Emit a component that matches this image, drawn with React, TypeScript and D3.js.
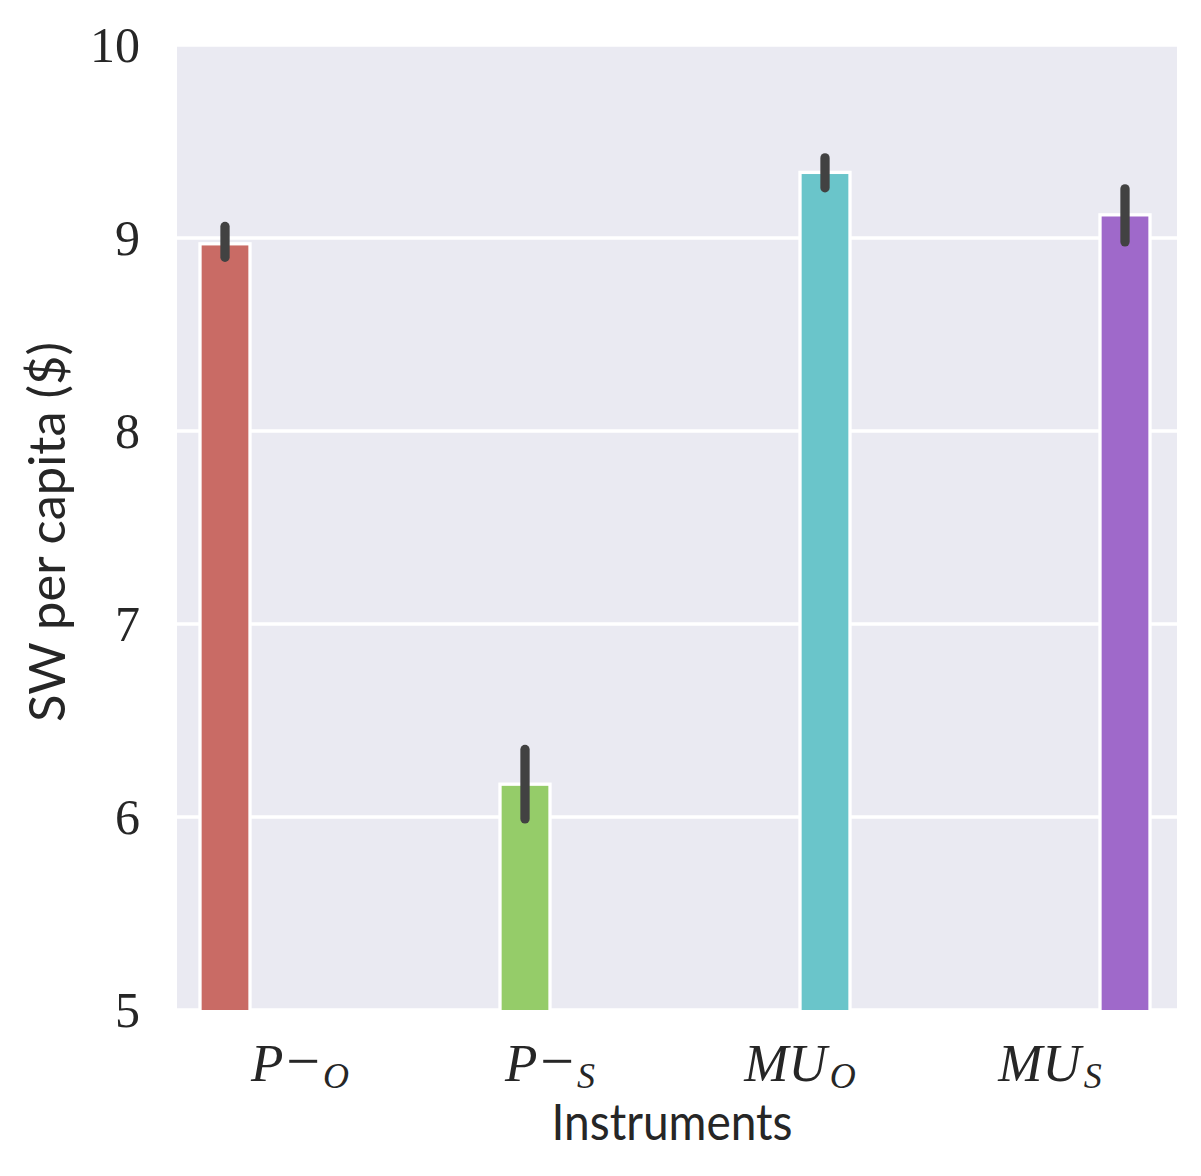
import React from "react";
import * as d3 from "d3";

const categories = ["P_O", "P_S", "MU_O", "MU_S"];
const hueIndex = [0, 1, 2, 3];
const values = [8.97, 6.17, 9.34, 9.12];
const ciLow = [8.9, 5.99, 9.26, 8.98];
const ciHigh = [9.06, 6.35, 9.415, 9.255];
const colors = ["#c96b65", "#95cc69", "#6ac5ca", "#9f69ca"];
const yTicks = [5, 6, 7, 8, 9, 10];
const tickMain = ["P", "P", "MU", "MU"];
const tickOp = ["\u2212", "\u2212", "", ""];
const tickSub = ["O", "S", "O", "S"];

const W = 1201;
const H = 1176;
const plot = { left: 177, right: 1177, top: 45, bottom: 1010 };

export default function App() {
  const x = d3.scaleBand<string>().domain(categories).range([175, 1175]).paddingInner(0).paddingOuter(0);
  const y = d3.scaleLinear().domain([5, 10]).range([plot.bottom, plot.top]);
  const groupW = x.bandwidth() * 0.8;
  const slotW = groupW / 4;
  const serif = "'Liberation Serif', 'DejaVu Serif', serif";
  const sans = "Lato, 'Open Sans', sans-serif";
  return (
    <svg width={W} height={H} style={{ position: "absolute", left: 0, top: 0, background: "#fff" }}>
      <defs>
        <clipPath id="plotclip">
          <rect x={plot.left} y={plot.top} width={plot.right - plot.left} height={plot.bottom - plot.top} />
        </clipPath>
      </defs>
      <rect x={plot.left} y={plot.top} width={plot.right - plot.left} height={plot.bottom - plot.top} fill="#eaeaf2" />
      {yTicks.map((t) => (
        <line key={"g" + t} x1={plot.left} x2={plot.right} y1={y(t)} y2={y(t)} stroke="#fff" strokeWidth={3.3} />
      ))}
      <g clipPath="url(#plotclip)">
        {categories.map((c, i) => {
          const cx = (x(c) as number) + x.bandwidth() / 2;
          const x0 = cx - groupW / 2 + hueIndex[i] * slotW;
          return (
            <rect
              key={c}
              x={x0}
              y={y(values[i])}
              width={slotW}
              height={y(5) - y(values[i]) + 5}
              fill={colors[i]}
              stroke="#fff"
              strokeWidth={3.3}
            />
          );
        })}
      </g>
      {categories.map((c, i) => {
        const cx = (x(c) as number) + x.bandwidth() / 2;
        const mx = cx - groupW / 2 + hueIndex[i] * slotW + slotW / 2;
        return (
          <line
            key={"e" + c}
            x1={mx}
            x2={mx}
            y1={y(ciLow[i])}
            y2={y(ciHigh[i])}
            stroke="#424242"
            strokeWidth={9.3}
            strokeLinecap="round"
          />
        );
      })}
      {yTicks.map((t) => (
        <text
          key={"t" + t}
          x={140}
          y={y(t)}
          dy="0.34em"
          textAnchor="end"
          fontFamily={serif}
          fontSize={50}
          fill="#262626"
        >
          {t}
        </text>
      ))}
      {categories.map((c, i) => {
        const cx = (x(c) as number) + x.bandwidth() / 2;
        return (
          <text
            key={"x" + c}
            x={cx}
            y={1081}
            textAnchor="middle"
            fontFamily={serif}
            fontStyle="italic"
            fontSize={53}
            fill="#262626"
          >
            <tspan>{tickMain[i]}</tspan>
            {tickOp[i] ? <tspan fontStyle="normal" fontSize={60} dx={3}>{tickOp[i]}</tspan> : null}
            <tspan fontSize={36} dy={7} dx={3}>{tickSub[i]}</tspan>
          </text>
        );
      })}
      <text
        x={672}
        y={1140}
        textAnchor="middle"
        fontFamily={sans}
        fontSize={50}
        fill="#262626"
        textLength={241}
        lengthAdjust="spacingAndGlyphs"
      >
        Instruments
      </text>
      <text
        transform={`translate(65, ${(342 + 722) / 2}) rotate(-90)`}
        textAnchor="middle"
        fontFamily={sans}
        fontSize={50}
        fill="#262626"
        textLength={380}
        lengthAdjust="spacingAndGlyphs"
      >
        SW per capita ($)
      </text>
    </svg>
  );
}
